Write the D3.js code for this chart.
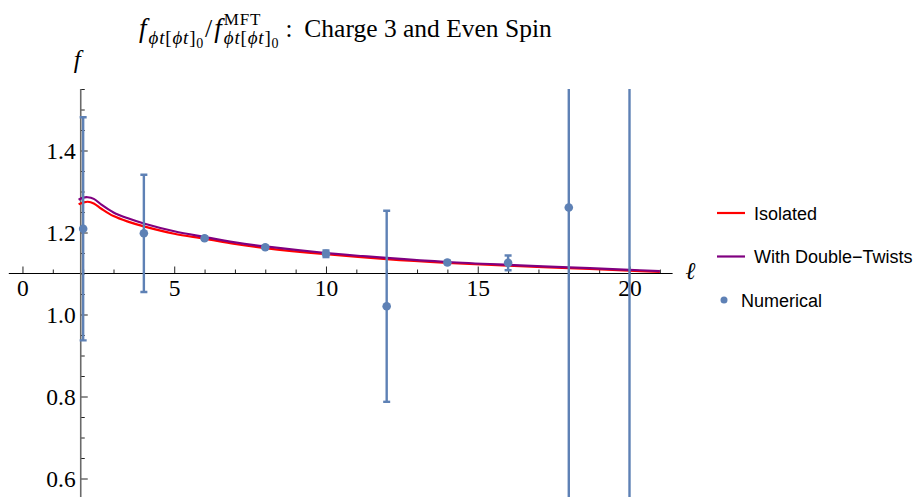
<!DOCTYPE html>
<html>
<head>
<meta charset="utf-8">
<script src="https://cdn.jsdelivr.net/npm/d3@7"></script>
<style>
  body { margin: 0; background: #fff; }
  svg { display: block; }
  .tick text { font-family: "Liberation Serif", serif; font-size: 23.5px; fill: #000; }
</style>
</head>
<body>
<div id="chart"></div>
<script>
// numerical points: spin, value, error
const spins = [2, 4, 6, 8, 10, 12, 14, 16, 18, 20];
const numericalF = [1.209, 1.198, 1.186, 1.164, 1.148, 1.020, 1.127, 1.126, 1.261, 1.75];
const numericalErr = [0.272, 0.143, 0.004, 0.003, 0.008, 0.233, 0.004, 0.018, 0.9, 1.5];

// curves
const curveSpins = [1.85, 2.0, 2.15, 2.35, 2.6, 3.0, 3.5, 4, 5, 6, 7, 8, 10, 12, 14, 16, 18, 20, 21];
const isolatedF = [1.269, 1.273, 1.275, 1.271, 1.258, 1.240, 1.226, 1.215, 1.197, 1.185, 1.172, 1.162, 1.147, 1.135, 1.126, 1.119, 1.113, 1.107, 1.104];
const doubleTwistF = [1.280, 1.285, 1.286, 1.282, 1.268, 1.249, 1.234, 1.222, 1.203, 1.189, 1.176, 1.166, 1.150, 1.138, 1.128, 1.121, 1.115, 1.109, 1.106];

// ticks
const xMajorTicks = [0, 5, 10, 15, 20];
const xMinorTicks = [1, 2, 3, 4, 6, 7, 8, 9, 11, 12, 13, 14, 16, 17, 18, 19, 21];
const yMajorTicks = [0.6, 0.8, 1.0, 1.2, 1.4];
const yMinorTicks = [0.55, 0.65, 0.7, 0.75, 0.85, 0.9, 0.95, 1.05, 1.1, 1.15, 1.25, 1.3, 1.35, 1.45, 1.5, 1.55];

const legendItems = ['Isolated', 'With Double\u2212Twists', 'Numerical'];

const width = 915, height = 497;
const origin = { x: 1.92, y: 1.1 };
const blue = '#5E81B5';

const svg = d3.select('#chart')
    .append('svg')
    .attr('width', width)
    .attr('height', height);

const x = d3.scaleLinear().domain([-0.45, 21.42]).range([8.8, 672.6]);
const y = d3.scaleLinear().domain([0.55, 1.55]).range([499, 89]);

// clip for data
svg.append('clipPath').attr('id', 'plotClip')
    .append('rect')
    .attr('x', x(-0.45)).attr('y', y(1.55))
    .attr('width', x(21.42) - x(-0.45)).attr('height', y(0.55) - y(1.55));

// x axis (ticks pointing up, labels below)
const xAxisG = svg.append('g')
    .attr('transform', `translate(0,${y(origin.y)})`);
xAxisG.append('g')
    .call(d3.axisBottom(x).tickValues(xMinorTicks).tickSize(-4).tickFormat(''))
    .call(g => g.select('.domain').remove());
xAxisG.append('g')
    .call(d3.axisBottom(x).tickValues(xMajorTicks).tickSize(-7).tickPadding(6).tickFormat(d3.format('d')))
    .call(g => g.select('.domain').remove());
xAxisG.append('line')
    .attr('x1', x(-0.45)).attr('x2', x(21.42))
    .attr('stroke', '#000').attr('stroke-width', 1);
xAxisG.selectAll('.tick line').attr('stroke', '#222');

// y axis (ticks pointing right, labels left)
const yAxisG = svg.append('g')
    .attr('transform', `translate(${x(origin.x)},0)`);
yAxisG.append('g')
    .call(d3.axisLeft(y).tickValues(yMinorTicks).tickSize(-4).tickFormat(''))
    .call(g => g.select('.domain').remove());
yAxisG.append('g')
    .call(d3.axisLeft(y).tickValues(yMajorTicks).tickSize(-7).tickPadding(5).tickFormat(d3.format('.1f')))
    .call(g => g.select('.domain').remove());
yAxisG.append('line')
    .attr('y1', y(1.55)).attr('y2', y(0.55))
    .attr('stroke', '#6a6a6a').attr('stroke-width', 1.6);
yAxisG.selectAll('.tick line').attr('stroke', '#222');

// axis labels
svg.append('text')
    .attr('x', x(origin.x) - 7).attr('y', 68)
    .attr('font-family', 'Liberation Serif, serif')
    .attr('font-style', 'italic')
    .attr('font-size', 25)
    .text('f');
svg.append('text')
    .attr('x', x(21.42) + 13).attr('y', y(origin.y) + 5)
    .attr('font-family', 'Liberation Serif, serif')
    .attr('font-style', 'italic')
    .attr('font-size', 24)
    .text('\u2113');

const plot = svg.append('g').attr('clip-path', 'url(#plotClip)');

// curves
const line = d3.line()
    .x((d, i) => x(curveSpins[i]))
    .y(d => y(d))
    .curve(d3.curveCatmullRom.alpha(0.5));

plot.append('path')
    .datum(isolatedF)
    .attr('fill', 'none')
    .attr('stroke', '#FF0000')
    .attr('stroke-width', 2.2)
    .attr('d', line);

plot.append('path')
    .datum(doubleTwistF)
    .attr('fill', 'none')
    .attr('stroke', '#800080')
    .attr('stroke-width', 2.2)
    .attr('d', line);

// error bars
const errG = plot.append('g')
    .attr('stroke', blue)
    .attr('stroke-width', 2.4);

spins.forEach((l, i) => {
    const lo = numericalF[i] - numericalErr[i];
    const hi = numericalF[i] + numericalErr[i];
    errG.append('line')
        .attr('x1', x(l)).attr('x2', x(l))
        .attr('y1', y(lo)).attr('y2', y(hi));
    [lo, hi].forEach(v => {
        errG.append('line')
            .attr('x1', x(l) - 3.5).attr('x2', x(l) + 3.5)
            .attr('y1', y(v)).attr('y2', y(v));
    });
});

// points
plot.selectAll('circle')
    .data(spins)
    .enter()
    .append('circle')
    .attr('cx', d => x(d))
    .attr('cy', (d, i) => y(numericalF[i]))
    .attr('r', 4.3)
    .attr('fill', blue);

// title with sub/superscripts
const title = svg.append('g').attr('transform', 'translate(139,37)');
let cursor = 0;
function put(str, size, dy, italic, advance = true) {
    const t = title.append('text')
        .attr('x', cursor).attr('y', dy)
        .attr('font-family', 'Liberation Serif, serif')
        .attr('font-size', size)
        .attr('font-style', italic ? 'italic' : 'normal')
        .attr('letter-spacing', size < 22 ? 0.8 : 0)
        .text(str);
    const w = t.node().getComputedTextLength();
    if (advance) cursor += w;
    return w;
}
function subscript() {
    put('\u03d5', 19, 7, true);
    put('t', 19, 7, true);
    put('[', 19, 7, false);
    put('\u03d5', 19, 7, true);
    put('t', 19, 7, true);
    put(']', 19, 7, false);
    put('0', 14, 11, false);
}
put('f', 27, 0, true);
cursor += 2;
subscript();
cursor += 1;
put('/', 26, 0, false);
cursor += 2;
put('f', 27, 0, true);
cursor += 2;
const supStart = cursor;
const supW = put('MFT', 17, -12, false, false);
subscript();
cursor = Math.max(cursor, supStart + supW);
cursor += 6;
put(':', 25, 0, false);
cursor += 12;
put('Charge 3 and Even Spin', 25.5, 0, false);

// legend
const legend = svg.append('g')
    .attr('transform', 'translate(717,213)')
    .attr('font-family', 'Liberation Sans, Arial, sans-serif')
    .attr('font-size', 18);

const legendColors = ['#FF0000', '#800080', blue];
legendItems.forEach((name, i) => {
    const row = legend.append('g').attr('transform', `translate(0,${i * 43.5})`);
    if (i < 2) {
        row.append('line')
            .attr('x1', 0).attr('x2', 28)
            .attr('stroke', legendColors[i])
            .attr('stroke-width', 2.2);
        row.append('text')
            .attr('x', 37).attr('y', 6.5)
            .text(name);
    } else {
        row.append('circle')
            .attr('cx', 7).attr('cy', 0)
            .attr('r', 3.5)
            .attr('fill', blue);
        row.append('text')
            .attr('x', 24).attr('y', 6.5)
            .text(name);
    }
});
</script>
</body>
</html>
